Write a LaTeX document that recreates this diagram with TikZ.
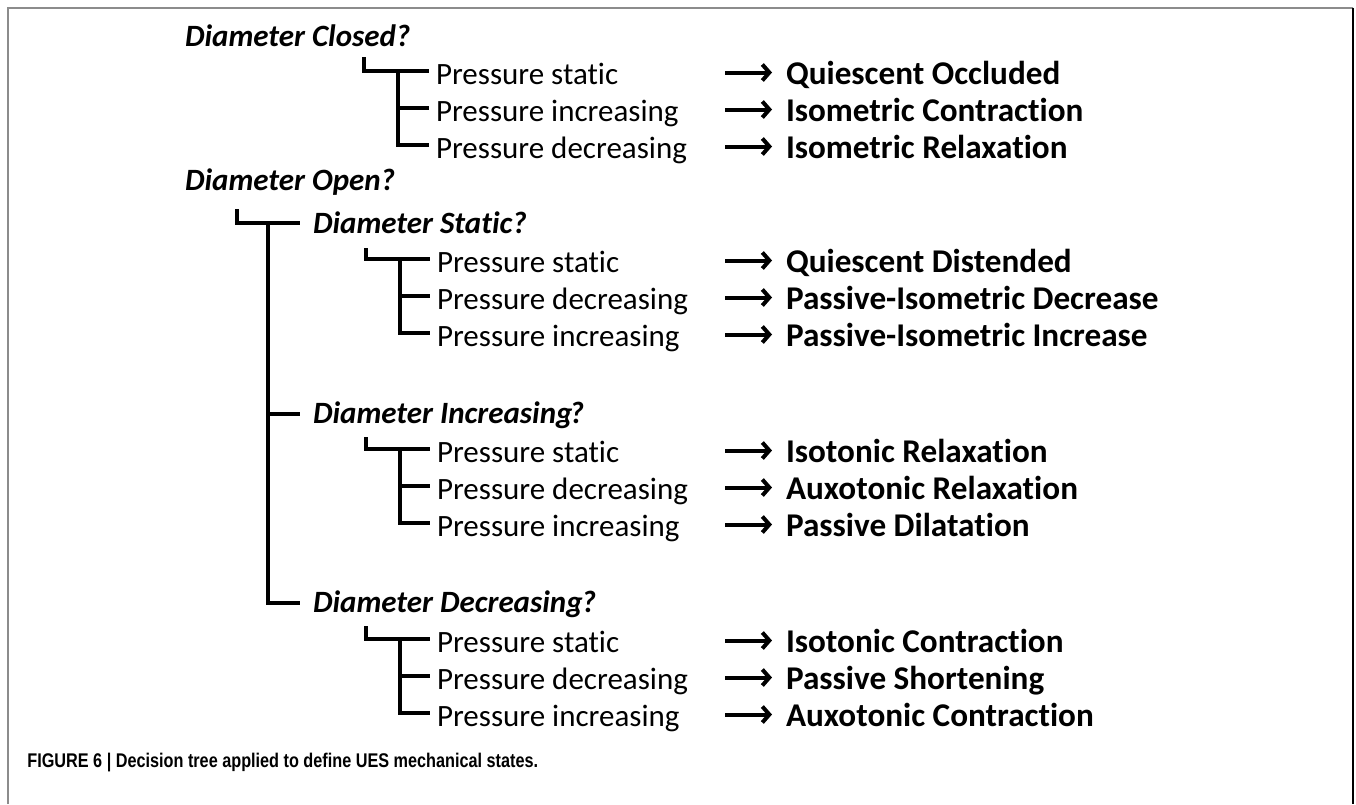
\documentclass[tikz,border=0pt]{standalone}
\usepackage{fontspec}
\setmainfont{Carlito}[Ligatures={NoCommon,NoContextual}]
\newfontfamily\capfont[FakeStretch=0.82]{Liberation Sans}
\usetikzlibrary{arrows.meta}
\tikzset{
  head/.style={anchor=base west, inner sep=0pt, outer sep=0pt, font=\fontsize{15.5}{18}\selectfont\bfseries\itshape},
  opt/.style={anchor=base west, inner sep=0pt, outer sep=0pt, font=\fontsize{15.5}{18}\selectfont},
  res/.style={anchor=base west, inner sep=0pt, outer sep=0pt, font=\fontsize{16.6}{19}\selectfont\bfseries},
  br/.style={line width=2pt, line join=miter, line cap=butt},
  arr/.style={line width=2pt, -{Straight Barb[length=3.5pt,width=8pt,line join=miter]}},
}
\begin{document}
\begin{tikzpicture}[x=0.5pt,y=-0.5pt]
\useasboundingbox (0,0) rectangle (1356,804);
% frame
\draw[draw=gray!90, line width=1pt] (7.5,804) -- (7.5,7.5) -- (1353,7.5);
\draw[black, line width=0.8pt] (1353,7.5) -- (1353,804);

% ---------- Diameter Closed ----------
\node[head] (hC) at (185,46) {Diameter Closed?};
\node[opt] (oC1) at (436,84) {Pressure static};
\node[opt] (oC2) at (436,121) {Pressure increasing};
\node[opt] (oC3) at (436,158) {Pressure decreasing};
\coordinate (sC) at (364,57);
\coordinate (kC) at (398,0);
\foreach \i in {1,2,3} {\coordinate (eC\i) at ([xshift=-3.5pt,yshift=6.5pt]oC\i.base west);}
\draw[br] (sC) |- (eC1);
\draw[br] (kC |- eC1) |- (eC3);
\draw[br] (kC |- eC2) -- (eC2);
\node[res] (rC1) at (786,84) {Quiescent Occluded};
\node[res] (rC2) at (786,121) {Isometric Contraction};
\node[res] (rC3) at (786,158) {Isometric Relaxation};

% ---------- Diameter Open ----------
\node[head] (hO) at (185,190) {Diameter Open?};
\node[head] (hS) at (313,233) {Diameter Static?};
\node[head] (hI) at (313,423) {Diameter Increasing\kern-1.5pt?};
\node[head] (hD) at (313,612) {Diameter Decreasing\kern-0.5pt?};
\coordinate (sO) at (237,209);
\coordinate (kO) at (268,0);
\coordinate (eS) at ([xshift=-6.5pt,yshift=5pt]hS.base west);
\coordinate (eI) at ([xshift=-6.5pt,yshift=4.5pt]hI.base west);
\coordinate (eD) at ([xshift=-6.5pt,yshift=4.5pt]hD.base west);
\draw[br] (sO) |- (eS);
\draw[br] (kO |- eS) |- (eD);
\draw[br] (kO |- eI) -- (eI);

% ---------- Diameter Static ----------
\node[opt] (oS1) at (437,272) {Pressure static};
\node[opt] (oS2) at (437,309) {Pressure decreasing};
\node[opt] (oS3) at (437,346) {Pressure increasing};
\coordinate (sS) at (366,248);
\coordinate (kS) at (400,0);
\foreach \i in {1,2,3} {\coordinate (eS\i) at ([xshift=-3.5pt,yshift=6.5pt]oS\i.base west);}
\draw[br] (sS) |- (eS1);
\draw[br] (kS |- eS1) |- (eS3);
\draw[br] (kS |- eS2) -- (eS2);
\node[res] (rS1) at (786,272) {Quiescent Distended};
\node[res] (rS2) at (786,309) {Passive-Isometric Decrease};
\node[res] (rS3) at (786,346) {Passive-Isometric Increase};

% ---------- Diameter Increasing ----------
\node[opt] (oI1) at (437,462) {Pressure static};
\node[opt] (oI2) at (437,499) {Pressure decreasing};
\node[opt] (oI3) at (437,536) {Pressure increasing};
\coordinate (sI) at (366,437);
\coordinate (kI) at (400,0);
\foreach \i in {1,2,3} {\coordinate (eI\i) at ([xshift=-3.5pt,yshift=6.5pt]oI\i.base west);}
\draw[br] (sI) |- (eI1);
\draw[br] (kI |- eI1) |- (eI3);
\draw[br] (kI |- eI2) -- (eI2);
\node[res] (rI1) at (786,462) {Isotonic Relaxation};
\node[res] (rI2) at (786,499) {Auxotonic Relaxation};
\node[res] (rI3) at (786,536) {Passive Dilatation};

% ---------- Diameter Decreasing ----------
\node[opt] (oD1) at (437,652) {Pressure static};
\node[opt] (oD2) at (437,689) {Pressure decreasing};
\node[opt] (oD3) at (437,726) {Pressure increasing};
\coordinate (sD) at (366,626);
\coordinate (kD) at (400,0);
\foreach \i in {1,2,3} {\coordinate (eD\i) at ([xshift=-3.5pt,yshift=6.5pt]oD\i.base west);}
\draw[br] (sD) |- (eD1);
\draw[br] (kD |- eD1) |- (eD3);
\draw[br] (kD |- eD2) -- (eD2);
\node[res] (rD1) at (786,652) {Isotonic Contraction};
\node[res] (rD2) at (786,689) {Passive Shortening};
\node[res] (rD3) at (786,726) {Auxotonic Contraction};

% ---------- arrows ----------
\foreach \g in {C,S,I,D} {
  \foreach \i in {1,2,3} {
    \coordinate (a\g\i) at ([yshift=5.75pt]r\g\i.base west);
    \draw[arr] ([xshift=-30.5pt]a\g\i) -- ([xshift=-7pt]a\g\i);
  }
}

% caption
\node[anchor=base west, inner sep=0pt, font=\capfont\bfseries\fontsize{9.9}{12}\selectfont] (cap) at (27,767) {FIGURE 6 | Decision tree applied to define UES mechanical states.};
\end{tikzpicture}
\end{document}
